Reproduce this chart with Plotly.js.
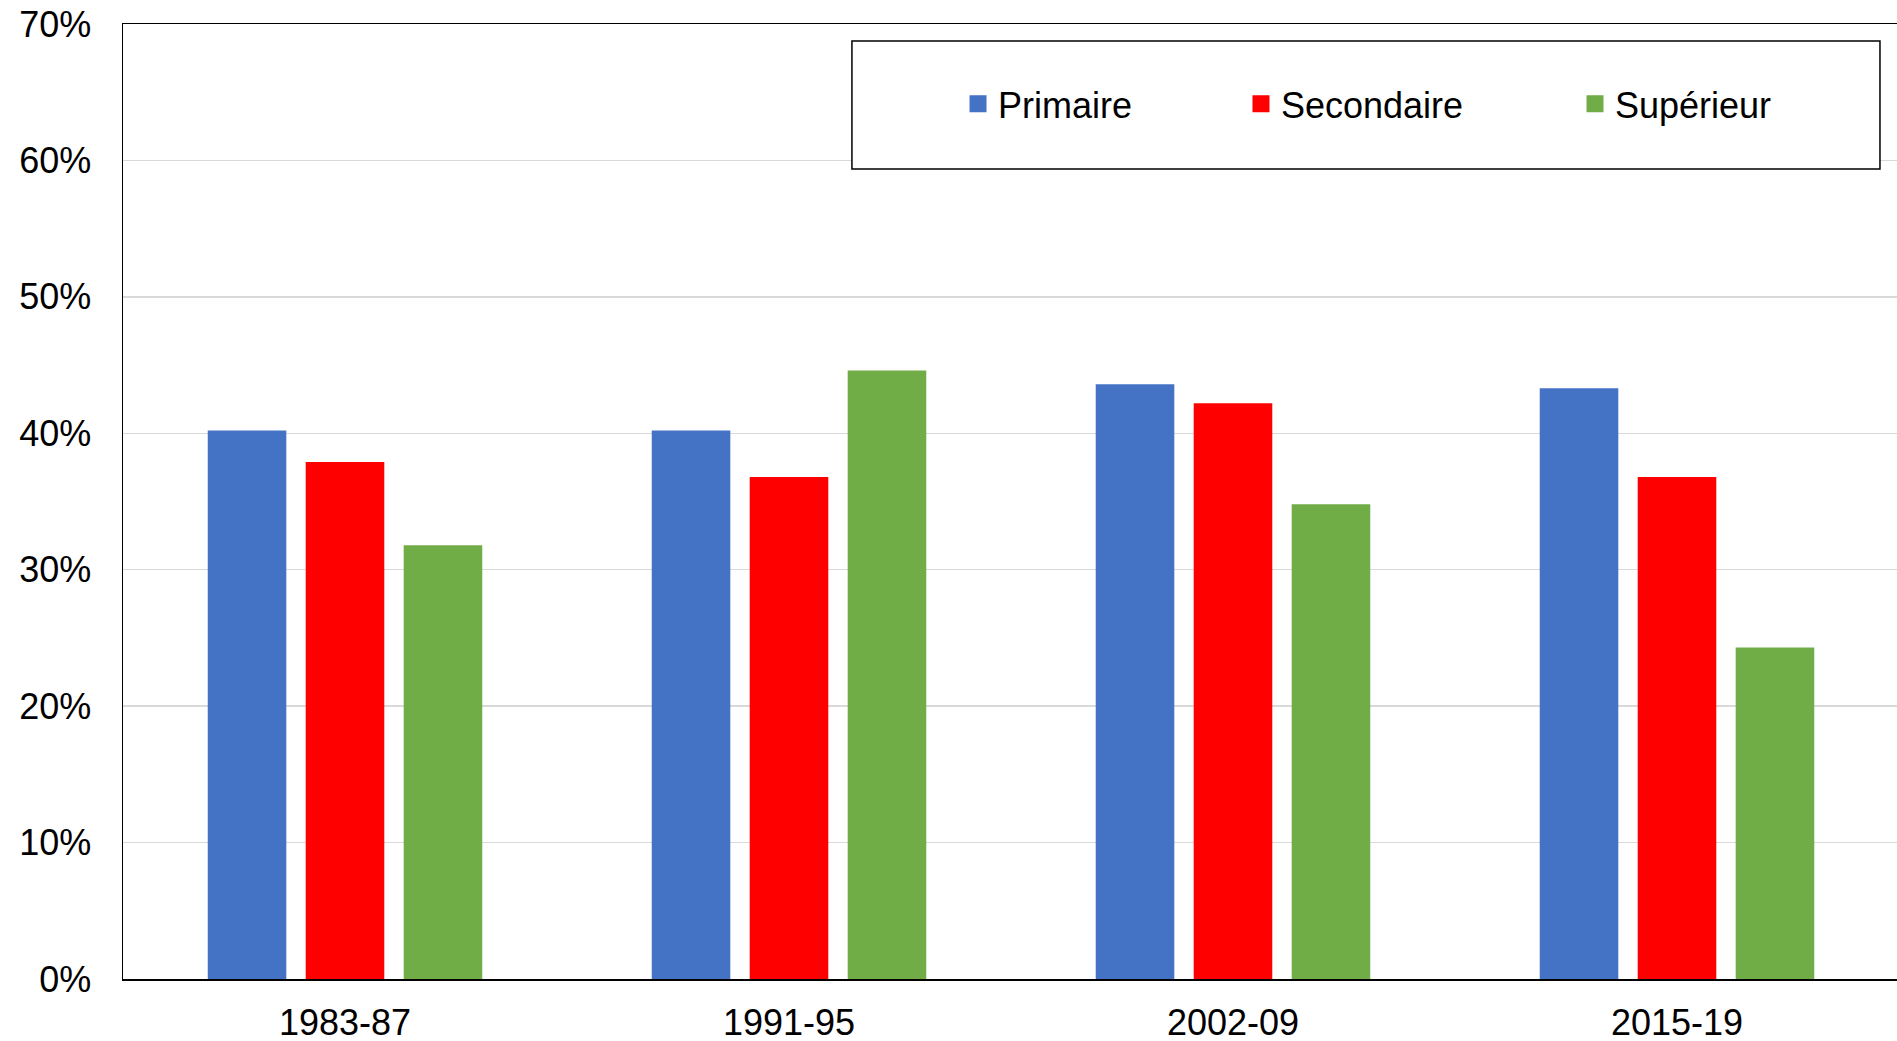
<!DOCTYPE html>
<html>
<head>
<meta charset="utf-8">
<script src="https://cdn.plot.ly/plotly-3.0.1.min.js"></script>
<style>html,body{margin:0;padding:0;background:#fff;}#chart{width:1897px;height:1041px;}</style>
</head>
<body>
<div id="chart"></div>
<script>
const categories = ["1983-87", "1991-95", "2002-09", "2015-19"];
const primaire   = [0.402, 0.402, 0.436, 0.433];
const secondaire = [0.379, 0.368, 0.422, 0.368];
const superieur  = [0.318, 0.446, 0.348, 0.243];
const seriesNames = ["Primaire", "Secondaire", "Supérieur"];
const yTickVals = [0, 0.1, 0.2, 0.3, 0.4, 0.5, 0.6, 0.7];
const yTickText = ["0%", "10%", "20%", "30%", "40%", "50%", "60%", "70%"];

const colors = ["#4472C4", "#FF0000", "#70AD47"];
const FONT = "Liberation Sans, Arial, sans-serif";
const seriesData = [primaire, secondaire, superieur];
const legendIds = ["legend", "legend2", "legend3"];

// data bars
const traces = seriesData.map((vals, i) => ({
  type: "bar",
  name: seriesNames[i],
  x: categories,
  y: vals,
  marker: {color: colors[i]},
  showlegend: false,
  hoverinfo: "skip"
}));
// legend entries (no data, on a hidden overlay subplot so grouping is unaffected)
seriesNames.forEach((name, i) => {
  traces.push({
    type: "bar",
    name: name,
    x: [null],
    y: [null],
    xaxis: "x2",
    yaxis: "y2",
    marker: {color: colors[i], line: {color: colors[i], width: 5}},
    legend: legendIds[i],
    showlegend: true,
    hoverinfo: "skip"
  });
});

const legendBase = {
  orientation: "h",
  xanchor: "left",
  yanchor: "middle",
  y: 0.9165,
  bgcolor: "rgba(0,0,0,0)",
  borderwidth: 0,
  font: {family: FONT, size: 36, color: "#000"}
};

const layout = {
  width: 1897,
  height: 1041,
  margin: {l: 123, r: 0, t: 24, b: 62, pad: 0},
  paper_bgcolor: "#fff",
  plot_bgcolor: "#fff",
  font: {family: FONT, size: 36, color: "#000"},
  barmode: "group",
  bargap: 0.338,
  bargroupgap: 0.198,
  showlegend: true,
  legend:  Object.assign({}, legendBase, {x: 0.4707}),
  legend2: Object.assign({}, legendBase, {x: 0.6302}),
  legend3: Object.assign({}, legendBase, {x: 0.8185}),
  xaxis: {
    type: "category",
    range: [-0.5, 3.4955],
    showline: true,
    linecolor: "#000",
    linewidth: 1.5,
    mirror: true,
    showgrid: false,
    ticks: "",
    tickfont: {family: FONT, size: 36, color: "#000"},
    ticklabelstandoff: 11,
    fixedrange: true
  },
  yaxis: {
    range: [0, 0.7],
    tickvals: yTickVals,
    ticktext: yTickText,
    showline: true,
    linecolor: "#000",
    linewidth: 1.5,
    showgrid: true,
    gridcolor: "#d9d9d9",
    gridwidth: 1.5,
    zeroline: false,
    ticks: "",
    tickfont: {family: FONT, size: 36, color: "#000"},
    ticklabelstandoff: 23,
    fixedrange: true
  },
  xaxis2: {overlaying: "x", visible: false, range: [0, 1], fixedrange: true},
  yaxis2: {overlaying: "y", visible: false, range: [0, 1], fixedrange: true},
  shapes: [{
    type: "rect",
    xref: "paper", yref: "paper",
    x0: 0.4109, x1: 0.9904, y0: 0.8482, y1: 0.9822,
    line: {color: "#000", width: 1.5},
    fillcolor: "#fff",
    layer: "above"
  }]
};

Plotly.newPlot("chart", traces, layout, {displayModeBar: false, staticPlot: true});
</script>
</body>
</html>
